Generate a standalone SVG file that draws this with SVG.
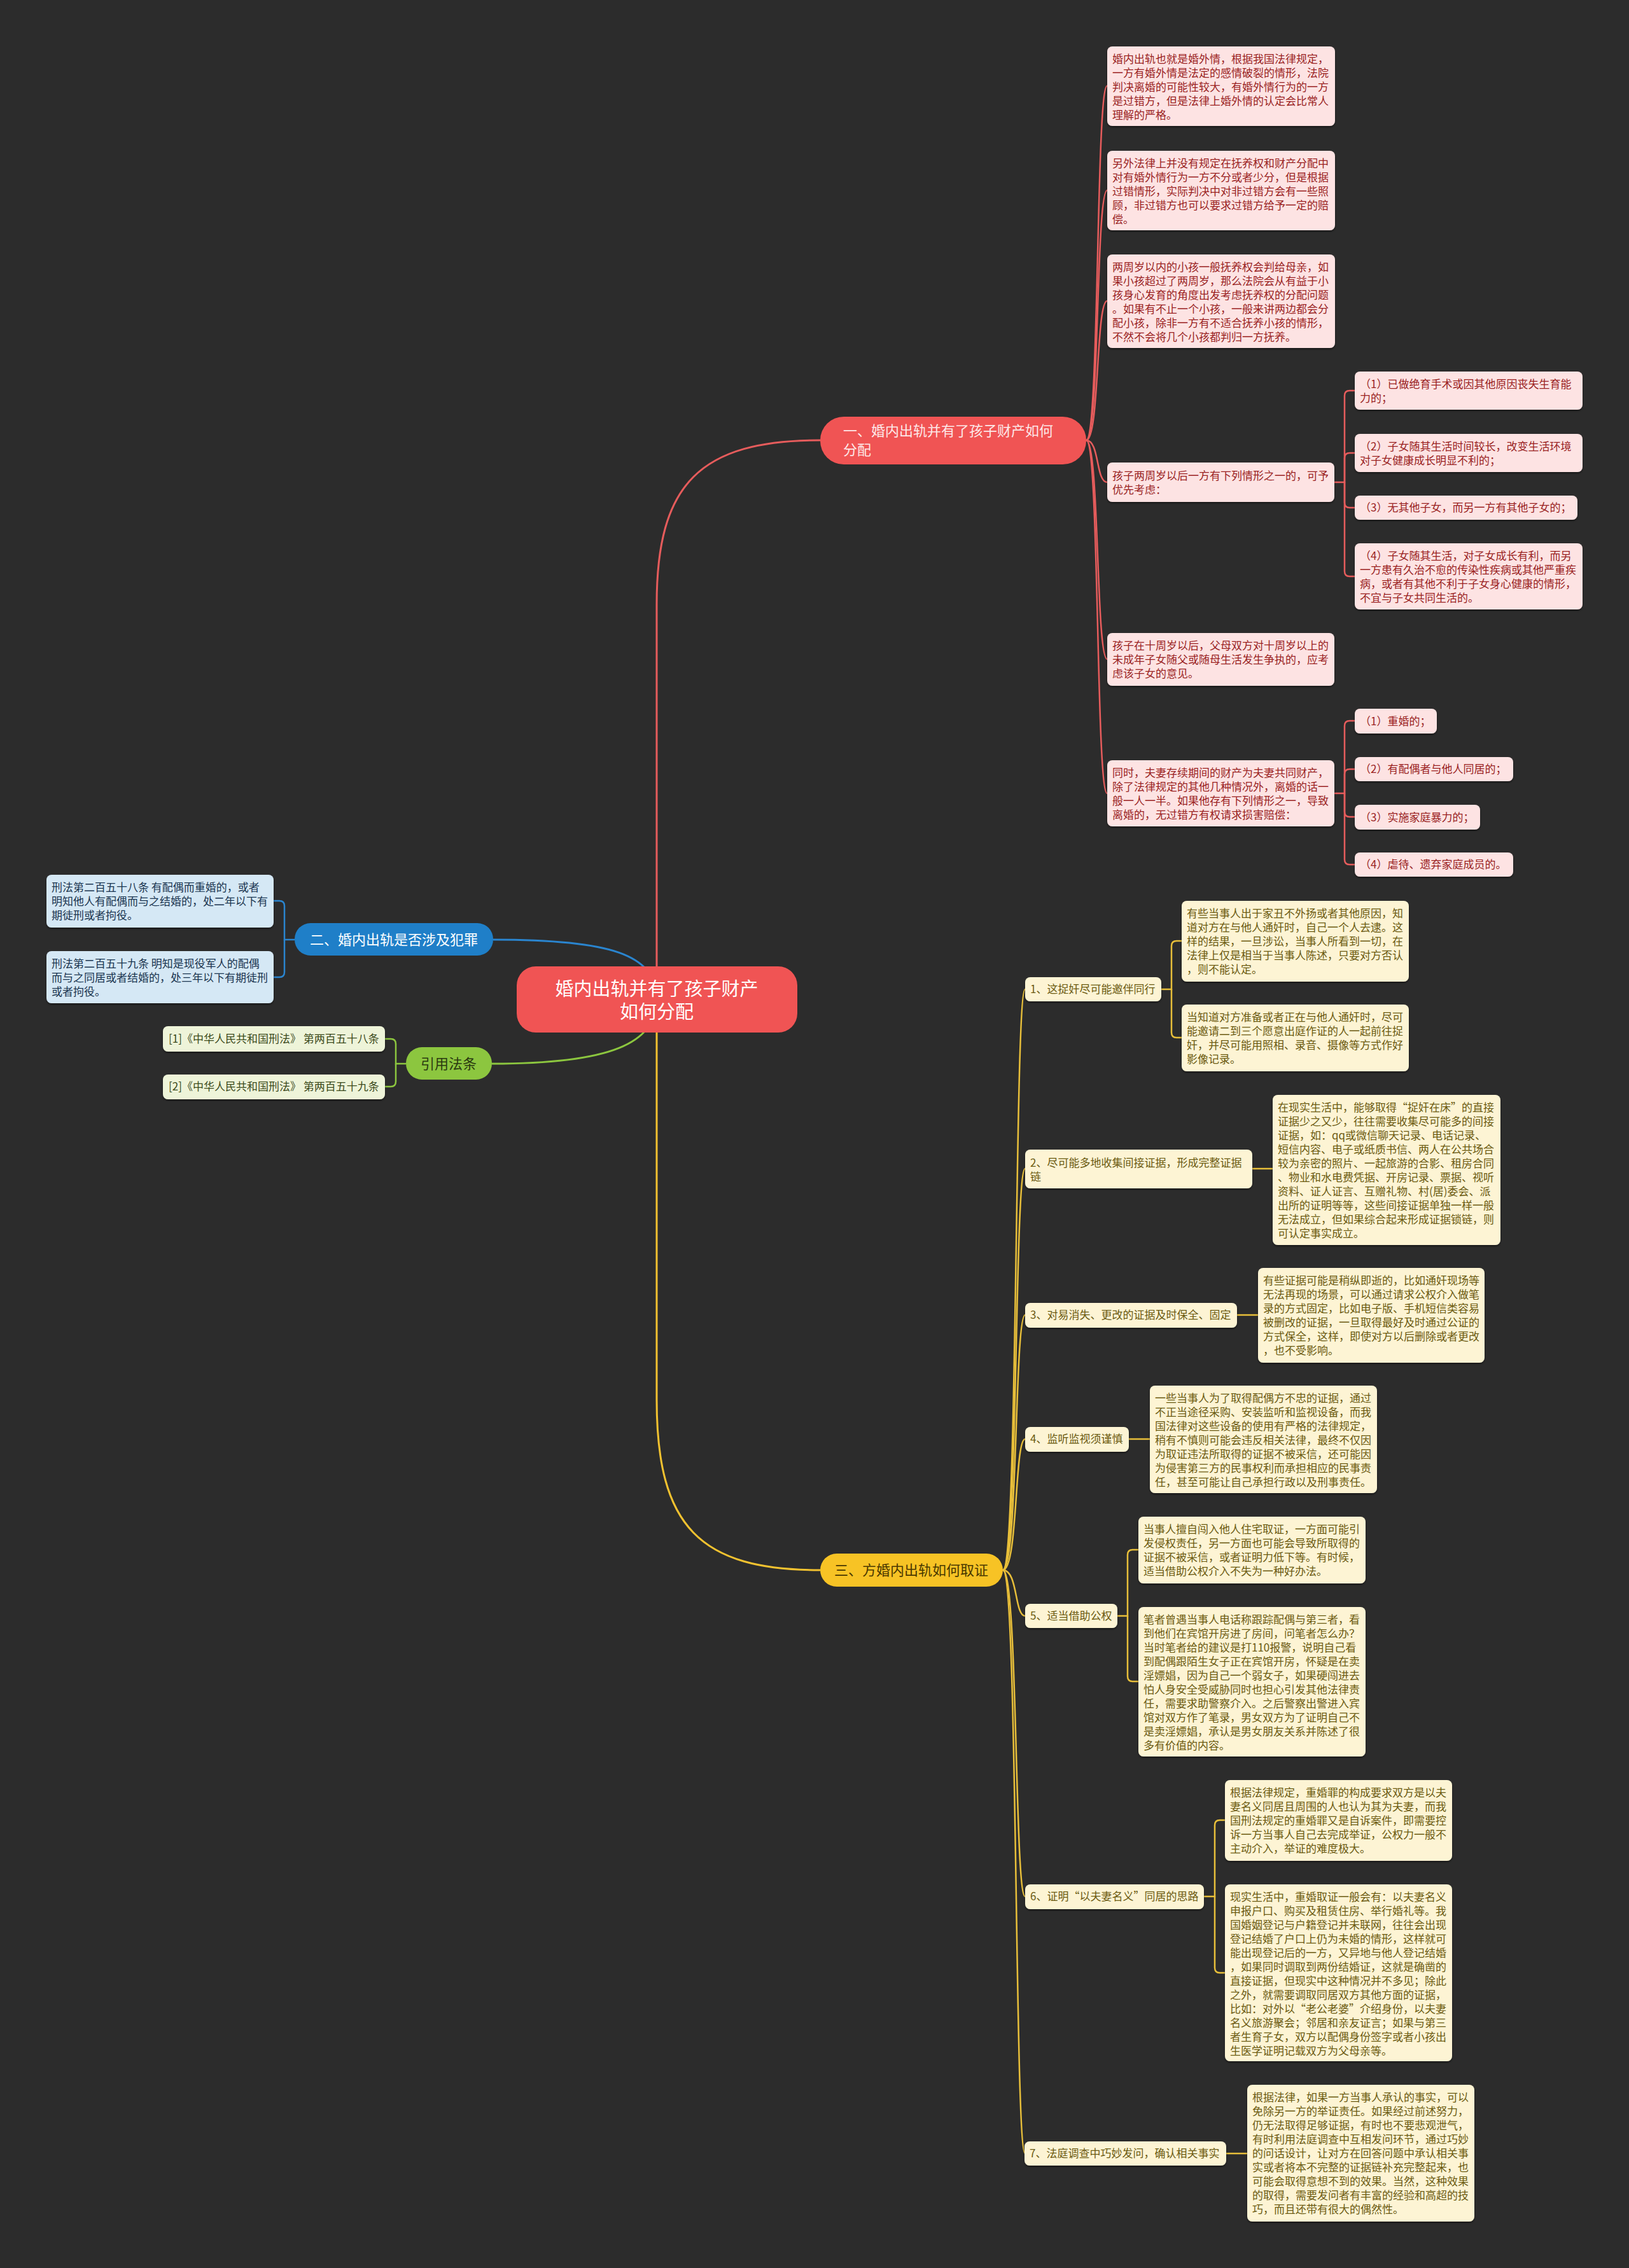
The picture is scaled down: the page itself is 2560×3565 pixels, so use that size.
<svg xmlns="http://www.w3.org/2000/svg" width="2560" height="3565" viewBox="0 0 2560 3565">
<defs>
<filter id="sh" x="-5%" y="-5%" width="110%" height="115%"><feDropShadow dx="0" dy="2" stdDeviation="1.5" flood-color="#000" flood-opacity="0.5"/></filter>
<style>
text{font-family:"Microsoft YaHei","Noto Sans CJK SC","Noto Sans",sans-serif;}
.lf{font-size:17px;}
.rl rect{fill:#fde3e3;filter:url(#sh);}
.rl text{fill:#9a1f1f;}
.bl rect{fill:#d5e8f5;filter:url(#sh);}
.bl text{fill:#1a3550;}
.gl rect{fill:#eef4d9;filter:url(#sh);}
.gl text{fill:#3b4a1b;}
.yl rect{fill:#fdf4d4;filter:url(#sh);}
.yl text{fill:#6b5a10;}
.cr{fill:none;stroke:#e65c5c;stroke-width:3;}
.cb{fill:none;stroke:#2a85cf;stroke-width:3;}
.cg{fill:none;stroke:#8cc63f;stroke-width:3;}
.cy{fill:none;stroke:#f2c230;stroke-width:3;}
.cr2{fill:none;stroke:#e65c5c;stroke-width:2.5;}
.cy2{fill:none;stroke:#e8bf3a;stroke-width:2.5;}
</style>
</defs>
<rect x="0" y="0" width="2560" height="3565" fill="#2c2c2c"/>

<g id="connectors">
<!-- root to branches -->
<path class="cr" d="M1032,1571 L1032,950 C1032,760 1100,692 1289,692"/>
<path class="cy" d="M1032,1571 L1032,2200 C1032,2400 1100,2468 1289,2468"/>
<path class="cb" d="M1032,1571 C1032,1500 960,1477 775,1477"/>
<path class="cg" d="M1032,1571 C1032,1640 960,1672 773,1672"/>
<!-- branch 1 to leaves -->
<path class="cr2" d="M1707,692 C1728,692 1722,135 1740,135"/>
<path class="cr2" d="M1707,692 C1728,692 1722,299 1740,299"/>
<path class="cr2" d="M1707,692 C1728,692 1722,473 1740,473"/>
<path class="cr2" d="M1707,692 C1728,692 1722,758 1740,758"/>
<path class="cr2" d="M1707,692 C1728,692 1722,1036 1740,1036"/>
<path class="cr2" d="M1707,692 C1728,692 1722,1247 1740,1247"/>
<!-- sub brackets red -->
<path class="cr2" d="M2096,758 H2113 V622 Q2113,614 2121,614 H2129"/>
<path class="cr2" d="M2113,758 V720 Q2113,712 2121,712 H2129"/>
<path class="cr2" d="M2113,758 V790 Q2113,798 2121,798 H2129"/>
<path class="cr2" d="M2113,758 V898 Q2113,906 2121,906 H2129"/>
<path class="cr2" d="M2097,1247 H2113 V1141 Q2113,1133 2121,1133 H2129"/>
<path class="cr2" d="M2113,1247 V1217 Q2113,1209 2121,1209 H2129"/>
<path class="cr2" d="M2113,1247 V1276 Q2113,1284 2121,1284 H2129"/>
<path class="cr2" d="M2113,1247 V1351 Q2113,1359 2121,1359 H2129"/>
<!-- blue bracket -->
<path class="cb" d="M463,1477 H447 V1424 Q447,1416 439,1416 H430" style="stroke-width:2.5"/>
<path class="cb" d="M447,1477 V1528 Q447,1536 439,1536 H430" style="stroke-width:2.5"/>
<!-- green bracket -->
<path class="cg" d="M638,1672 H622 V1641 Q622,1633 614,1633 H605" style="stroke-width:2.5"/>
<path class="cg" d="M622,1672 V1700 Q622,1708 614,1708 H605" style="stroke-width:2.5"/>
<!-- branch 3 to sub nodes -->
<path class="cy2" d="M1576,2468 C1600,2468 1594,1555 1611,1555"/>
<path class="cy2" d="M1576,2468 C1600,2468 1594,1837 1611,1837"/>
<path class="cy2" d="M1576,2468 C1600,2468 1594,2067 1611,2067"/>
<path class="cy2" d="M1576,2468 C1600,2468 1594,2262 1611,2262"/>
<path class="cy2" d="M1576,2468 C1600,2468 1594,2540 1611,2540"/>
<path class="cy2" d="M1576,2468 C1600,2468 1594,2981 1611,2981"/>
<path class="cy2" d="M1576,2468 C1600,2468 1594,3385 1611,3385"/>
<!-- sub nodes to leaves -->
<path class="cy2" d="M1825,1555 H1841 V1487 Q1841,1479 1849,1479 H1857"/>
<path class="cy2" d="M1841,1555 V1623 Q1841,1631 1849,1631 H1857"/>
<path class="cy2" d="M1968,1837 H2000"/>
<path class="cy2" d="M1944,2067 H1977"/>
<path class="cy2" d="M1774,2262 H1807"/>
<path class="cy2" d="M1756,2540 H1772 V2444 Q1772,2436 1780,2436 H1789"/>
<path class="cy2" d="M1772,2540 V2635 Q1772,2643 1780,2643 H1789"/>
<path class="cy2" d="M1892,2981 H1909 V2869 Q1909,2861 1917,2861 H1925"/>
<path class="cy2" d="M1909,2981 V3093 Q1909,3101 1917,3101 H1925"/>
<path class="cy2" d="M1927,3385 H1960"/>
</g>

<g id="root">
<rect x="812" y="1519" width="441" height="104" rx="30" fill="#f05454"/>
<text x="1032" y="1565" text-anchor="middle" font-size="29" fill="#ffffff">婚内出轨并有了孩子财产</text>
<text x="1032" y="1601" text-anchor="middle" font-size="29" fill="#ffffff">如何分配</text>
</g>

<g id="branch1">
<rect x="1289" y="655" width="418" height="75" rx="37" fill="#f05454"/>
<text x="1325" y="685" font-size="22" fill="#fde8e8">一、婚内出轨并有了孩子财产如何</text>
<text x="1325" y="715" font-size="22" fill="#fde8e8">分配</text>
</g>

<g id="branch2">
<rect x="463" y="1451" width="312" height="51" rx="25" fill="#1f7fc8"/>
<text x="619" y="1485" text-anchor="middle" font-size="22" fill="#ffffff">二、婚内出轨是否涉及犯罪</text>
</g>

<g id="branch-ref">
<rect x="638" y="1646" width="135" height="51" rx="25" fill="#8cc63f"/>
<text x="705" y="1680" text-anchor="middle" font-size="22" fill="#2a3a10">引用法条</text>
</g>

<g id="branch3">
<rect x="1289" y="2442" width="287" height="52" rx="26" fill="#f7c325"/>
<text x="1432" y="2476" text-anchor="middle" font-size="22" fill="#4a3800">三、方婚内出轨如何取证</text>
</g>

<!-- red leaves -->
<g id="r1" class="rl lf">
<rect x="1740" y="73" width="358" height="125" rx="8"/>
<text x="1748" y="99"><tspan x="1748">婚内出轨也就是婚外情，根据我国法律规定，</tspan><tspan x="1748" dy="22">一方有婚外情是法定的感情破裂的情形，法院</tspan><tspan x="1748" dy="22">判决离婚的可能性较大，有婚外情行为的一方</tspan><tspan x="1748" dy="22">是过错方，但是法律上婚外情的认定会比常人</tspan><tspan x="1748" dy="22">理解的严格。</tspan></text>
</g>
<g id="r2" class="rl lf">
<rect x="1740" y="237" width="358" height="125" rx="8"/>
<text x="1748" y="263"><tspan x="1748">另外法律上并没有规定在抚养权和财产分配中</tspan><tspan x="1748" dy="22">对有婚外情行为一方不分或者少分，但是根据</tspan><tspan x="1748" dy="22">过错情形，实际判决中对非过错方会有一些照</tspan><tspan x="1748" dy="22">顾，非过错方也可以要求过错方给予一定的赔</tspan><tspan x="1748" dy="22">偿。</tspan></text>
</g>
<g id="r3" class="rl lf">
<rect x="1740" y="400" width="358" height="147" rx="8"/>
<text x="1748" y="426"><tspan x="1748">两周岁以内的小孩一般抚养权会判给母亲，如</tspan><tspan x="1748" dy="22">果小孩超过了两周岁，那么法院会从有益于小</tspan><tspan x="1748" dy="22">孩身心发育的角度出发考虑抚养权的分配问题</tspan><tspan x="1748" dy="22">。如果有不止一个小孩，一般来讲两边都会分</tspan><tspan x="1748" dy="22">配小孩，除非一方有不适合抚养小孩的情形，</tspan><tspan x="1748" dy="22">不然不会将几个小孩都判归一方抚养。</tspan></text>
</g>
<g id="r4" class="rl lf">
<rect x="1740" y="727" width="357" height="62" rx="8"/>
<text x="1748" y="754"><tspan x="1748">孩子两周岁以后一方有下列情形之一的，可予</tspan><tspan x="1748" dy="22">优先考虑：</tspan></text>
</g>
<g id="r4a" class="rl lf">
<rect x="2129" y="584" width="358" height="60" rx="8"/>
<text x="2137" y="610"><tspan x="2137">（1）已做绝育手术或因其他原因丧失生育能</tspan><tspan x="2137" dy="22">力的；</tspan></text>
</g>
<g id="r4b" class="rl lf">
<rect x="2129" y="682" width="358" height="60" rx="8"/>
<text x="2137" y="708"><tspan x="2137">（2）子女随其生活时间较长，改变生活环境</tspan><tspan x="2137" dy="22">对子女健康成长明显不利的；</tspan></text>
</g>
<g id="r4c" class="rl lf">
<rect x="2129" y="779" width="350" height="38" rx="8"/>
<text x="2137" y="804">（3）无其他子女，而另一方有其他子女的；</text>
</g>
<g id="r4d" class="rl lf">
<rect x="2129" y="854" width="358" height="104" rx="8"/>
<text x="2137" y="880"><tspan x="2137">（4）子女随其生活，对子女成长有利，而另</tspan><tspan x="2137" dy="22">一方患有久治不愈的传染性疾病或其他严重疾</tspan><tspan x="2137" dy="22">病，或者有其他不利于子女身心健康的情形，</tspan><tspan x="2137" dy="22">不宜与子女共同生活的。</tspan></text>
</g>
<g id="r5" class="rl lf">
<rect x="1740" y="995" width="357" height="83" rx="8"/>
<text x="1748" y="1021"><tspan x="1748">孩子在十周岁以后，父母双方对十周岁以上的</tspan><tspan x="1748" dy="22">未成年子女随父或随母生活发生争执的，应考</tspan><tspan x="1748" dy="22">虑该子女的意见。</tspan></text>
</g>
<g id="r6" class="rl lf">
<rect x="1740" y="1195" width="357" height="104" rx="8"/>
<text x="1748" y="1221"><tspan x="1748">同时，夫妻存续期间的财产为夫妻共同财产，</tspan><tspan x="1748" dy="22">除了法律规定的其他几种情况外，离婚的话一</tspan><tspan x="1748" dy="22">般一人一半。如果他存有下列情形之一，导致</tspan><tspan x="1748" dy="22">离婚的，无过错方有权请求损害赔偿：</tspan></text>
</g>
<g id="r6a" class="rl lf">
<rect x="2129" y="1114" width="129" height="39" rx="8"/>
<text x="2137" y="1140">（1）重婚的；</text>
</g>
<g id="r6b" class="rl lf">
<rect x="2129" y="1190" width="249" height="38" rx="8"/>
<text x="2137" y="1215">（2）有配偶者与他人同居的；</text>
</g>
<g id="r6c" class="rl lf">
<rect x="2129" y="1265" width="197" height="39" rx="8"/>
<text x="2137" y="1291">（3）实施家庭暴力的；</text>
</g>
<g id="r6d" class="rl lf">
<rect x="2129" y="1340" width="249" height="38" rx="8"/>
<text x="2137" y="1365">（4）虐待、遗弃家庭成员的。</text>
</g>

<!-- blue leaves -->
<g id="b1" class="bl lf">
<rect x="73" y="1375" width="357" height="83" rx="8"/>
<text x="81" y="1401"><tspan x="81">刑法第二百五十八条 有配偶而重婚的，或者</tspan><tspan x="81" dy="22">明知他人有配偶而与之结婚的，处二年以下有</tspan><tspan x="81" dy="22">期徒刑或者拘役。</tspan></text>
</g>
<g id="b2" class="bl lf">
<rect x="73" y="1495" width="357" height="82" rx="8"/>
<text x="81" y="1521"><tspan x="81">刑法第二百五十九条 明知是现役军人的配偶</tspan><tspan x="81" dy="22">而与之同居或者结婚的，处三年以下有期徒刑</tspan><tspan x="81" dy="22">或者拘役。</tspan></text>
</g>

<!-- green leaves -->
<g id="g1" class="gl lf">
<rect x="256" y="1613" width="349" height="40" rx="8"/>
<text x="265" y="1639">[1]《中华人民共和国刑法》 第两百五十八条</text>
</g>
<g id="g2" class="gl lf">
<rect x="256" y="1689" width="349" height="39" rx="8"/>
<text x="265" y="1714">[2]《中华人民共和国刑法》 第两百五十九条</text>
</g>

<!-- yellow sub nodes -->
<g id="y1" class="yl lf">
<rect x="1611" y="1536" width="214" height="38" rx="8"/>
<text x="1619" y="1561">1、这捉奸尽可能邀伴同行</text>
</g>
<g id="y2" class="yl lf">
<rect x="1611" y="1807" width="357" height="61" rx="8"/>
<text x="1619" y="1834"><tspan x="1619">2、尽可能多地收集间接证据，形成完整证据</tspan><tspan x="1619" dy="22">链</tspan></text>
</g>
<g id="y3" class="yl lf">
<rect x="1611" y="2048" width="333" height="39" rx="8"/>
<text x="1619" y="2073">3、对易消失、更改的证据及时保全、固定</text>
</g>
<g id="y4" class="yl lf">
<rect x="1611" y="2243" width="163" height="39" rx="8"/>
<text x="1619" y="2268">4、监听监视须谨慎</text>
</g>
<g id="y5" class="yl lf">
<rect x="1611" y="2521" width="145" height="38" rx="8"/>
<text x="1619" y="2546">5、适当借助公权</text>
</g>
<g id="y6" class="yl lf">
<rect x="1611" y="2962" width="281" height="39" rx="8"/>
<text x="1619" y="2987">6、证明“以夫妻名义”同居的思路</text>
</g>
<g id="y7" class="yl lf">
<rect x="1610" y="3366" width="317" height="38" rx="8"/>
<text x="1618" y="3391">7、法庭调查中巧妙发问，确认相关事实</text>
</g>

<!-- yellow leaves -->
<g id="y1a" class="yl lf">
<rect x="1857" y="1416" width="357" height="127" rx="8"/>
<text x="1865" y="1442"><tspan x="1865">有些当事人出于家丑不外扬或者其他原因，知</tspan><tspan x="1865" dy="22">道对方在与他人通奸时，自己一个人去逮。这</tspan><tspan x="1865" dy="22">样的结果，一旦涉讼，当事人所看到一切，在</tspan><tspan x="1865" dy="22">法律上仅是相当于当事人陈述，只要对方否认</tspan><tspan x="1865" dy="22">，则不能认定。</tspan></text>
</g>
<g id="y1b" class="yl lf">
<rect x="1857" y="1579" width="357" height="105" rx="8"/>
<text x="1865" y="1605"><tspan x="1865">当知道对方准备或者正在与他人通奸时，尽可</tspan><tspan x="1865" dy="22">能邀请二到三个愿意出庭作证的人一起前往捉</tspan><tspan x="1865" dy="22">奸，并尽可能用照相、录音、摄像等方式作好</tspan><tspan x="1865" dy="22">影像记录。</tspan></text>
</g>
<g id="y2a" class="yl lf">
<rect x="2000" y="1721" width="358" height="236" rx="8"/>
<text x="2008" y="1747"><tspan x="2008">在现实生活中，能够取得“捉奸在床”的直接</tspan><tspan x="2008" dy="22">证据少之又少，往往需要收集尽可能多的间接</tspan><tspan x="2008" dy="22">证据，如：qq或微信聊天记录、电话记录、</tspan><tspan x="2008" dy="22">短信内容、电子或纸质书信、两人在公共场合</tspan><tspan x="2008" dy="22">较为亲密的照片、一起旅游的合影、租房合同</tspan><tspan x="2008" dy="22">、物业和水电费凭据、开房记录、票据、视听</tspan><tspan x="2008" dy="22">资料、证人证言、互赠礼物、村(居)委会、派</tspan><tspan x="2008" dy="22">出所的证明等等，这些间接证据单独一样一般</tspan><tspan x="2008" dy="22">无法成立，但如果综合起来形成证据锁链，则</tspan><tspan x="2008" dy="22">可认定事实成立。</tspan></text>
</g>
<g id="y3a" class="yl lf">
<rect x="1977" y="1993" width="356" height="149" rx="8"/>
<text x="1985" y="2019"><tspan x="1985">有些证据可能是稍纵即逝的，比如通奸现场等</tspan><tspan x="1985" dy="22">无法再现的场景，可以通过请求公权介入做笔</tspan><tspan x="1985" dy="22">录的方式固定，比如电子版、手机短信类容易</tspan><tspan x="1985" dy="22">被删改的证据，一旦取得最好及时通过公证的</tspan><tspan x="1985" dy="22">方式保全，这样，即使对方以后删除或者更改</tspan><tspan x="1985" dy="22">，也不受影响。</tspan></text>
</g>
<g id="y4a" class="yl lf">
<rect x="1807" y="2178" width="357" height="169" rx="8"/>
<text x="1815" y="2204"><tspan x="1815">一些当事人为了取得配偶方不忠的证据，通过</tspan><tspan x="1815" dy="22">不正当途径采购、安装监听和监视设备，而我</tspan><tspan x="1815" dy="22">国法律对这些设备的使用有严格的法律规定，</tspan><tspan x="1815" dy="22">稍有不慎则可能会违反相关法律，最终不仅因</tspan><tspan x="1815" dy="22">为取证违法所取得的证据不被采信，还可能因</tspan><tspan x="1815" dy="22">为侵害第三方的民事权利而承担相应的民事责</tspan><tspan x="1815" dy="22">任，甚至可能让自己承担行政以及刑事责任。</tspan></text>
</g>
<g id="y5a" class="yl lf">
<rect x="1789" y="2384" width="357" height="105" rx="8"/>
<text x="1797" y="2410"><tspan x="1797">当事人擅自闯入他人住宅取证，一方面可能引</tspan><tspan x="1797" dy="22">发侵权责任，另一方面也可能会导致所取得的</tspan><tspan x="1797" dy="22">证据不被采信，或者证明力低下等。有时候，</tspan><tspan x="1797" dy="22">适当借助公权介入不失为一种好办法。</tspan></text>
</g>
<g id="y5b" class="yl lf">
<rect x="1789" y="2526" width="357" height="235" rx="8"/>
<text x="1797" y="2552"><tspan x="1797">笔者曾遇当事人电话称跟踪配偶与第三者，看</tspan><tspan x="1797" dy="22">到他们在宾馆开房进了房间，问笔者怎么办？</tspan><tspan x="1797" dy="22">当时笔者给的建议是打110报警，说明自己看</tspan><tspan x="1797" dy="22">到配偶跟陌生女子正在宾馆开房，怀疑是在卖</tspan><tspan x="1797" dy="22">淫嫖娼，因为自己一个弱女子，如果硬闯进去</tspan><tspan x="1797" dy="22">怕人身安全受威胁同时也担心引发其他法律责</tspan><tspan x="1797" dy="22">任，需要求助警察介入。之后警察出警进入宾</tspan><tspan x="1797" dy="22">馆对双方作了笔录，男女双方为了证明自己不</tspan><tspan x="1797" dy="22">是卖淫嫖娼，承认是男女朋友关系并陈述了很</tspan><tspan x="1797" dy="22">多有价值的内容。</tspan></text>
</g>
<g id="y6a" class="yl lf">
<rect x="1925" y="2798" width="357" height="127" rx="8"/>
<text x="1933" y="2824"><tspan x="1933">根据法律规定，重婚罪的构成要求双方是以夫</tspan><tspan x="1933" dy="22">妻名义同居且周围的人也认为其为夫妻，而我</tspan><tspan x="1933" dy="22">国刑法规定的重婚罪又是自诉案件，即需要控</tspan><tspan x="1933" dy="22">诉一方当事人自己去完成举证，公权力一般不</tspan><tspan x="1933" dy="22">主动介入，举证的难度极大。</tspan></text>
</g>
<g id="y6b" class="yl lf">
<rect x="1925" y="2962" width="357" height="278" rx="8"/>
<text x="1933" y="2988"><tspan x="1933">现实生活中，重婚取证一般会有：以夫妻名义</tspan><tspan x="1933" dy="22">申报户口、购买及租赁住房、举行婚礼等。我</tspan><tspan x="1933" dy="22">国婚姻登记与户籍登记并未联网，往往会出现</tspan><tspan x="1933" dy="22">登记结婚了户口上仍为未婚的情形，这样就可</tspan><tspan x="1933" dy="22">能出现登记后的一方，又异地与他人登记结婚</tspan><tspan x="1933" dy="22">，如果同时调取到两份结婚证，这就是确凿的</tspan><tspan x="1933" dy="22">直接证据，但现实中这种情况并不多见；除此</tspan><tspan x="1933" dy="22">之外，就需要调取同居双方其他方面的证据，</tspan><tspan x="1933" dy="22">比如：对外以“老公老婆”介绍身份，以夫妻</tspan><tspan x="1933" dy="22">名义旅游聚会；邻居和亲友证言；如果与第三</tspan><tspan x="1933" dy="22">者生育子女，双方以配偶身份签字或者小孩出</tspan><tspan x="1933" dy="22">生医学证明记载双方为父母亲等。</tspan></text>
</g>
<g id="y7a" class="yl lf">
<rect x="1960" y="3277" width="357" height="215" rx="8"/>
<text x="1968" y="3303"><tspan x="1968">根据法律，如果一方当事人承认的事实，可以</tspan><tspan x="1968" dy="22">免除另一方的举证责任。如果经过前述努力，</tspan><tspan x="1968" dy="22">仍无法取得足够证据，有时也不要悲观泄气，</tspan><tspan x="1968" dy="22">有时利用法庭调查中互相发问环节，通过巧妙</tspan><tspan x="1968" dy="22">的问话设计，让对方在回答问题中承认相关事</tspan><tspan x="1968" dy="22">实或者将本不完整的证据链补充完整起来，也</tspan><tspan x="1968" dy="22">可能会取得意想不到的效果。当然，这种效果</tspan><tspan x="1968" dy="22">的取得，需要发问者有丰富的经验和高超的技</tspan><tspan x="1968" dy="22">巧，而且还带有很大的偶然性。</tspan></text>
</g>
</svg>
